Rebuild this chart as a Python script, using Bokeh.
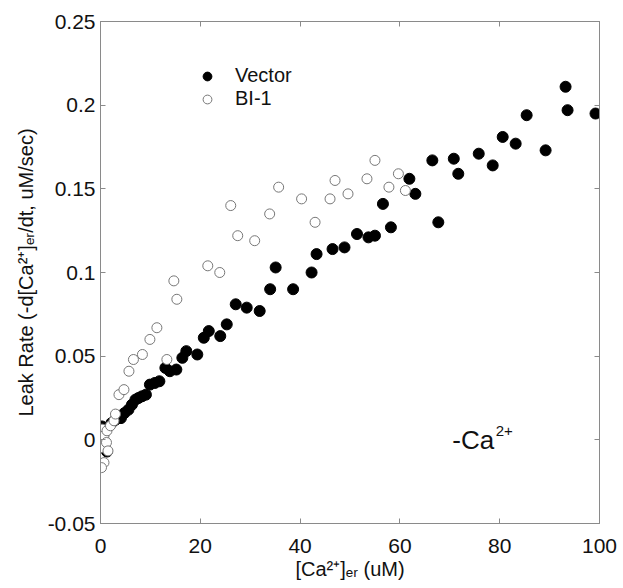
import numpy as np
from bokeh.plotting import figure
from bokeh.models import (ColumnDataSource, FixedTicker, LinearAxis, Legend, LegendItem,
                          Label, CustomJSTickFormatter)
from bokeh.embed import file_html
from bokeh.resources import INLINE

# ---------------- data ----------------
vector_x = [0.3, 1.0, 0.5, 1.3, 2.2, 3.0, 4.1, 4.8, 5.6, 6.3, 7.0, 7.6, 8.3, 9.1,
            9.9, 10.9, 11.8, 13.0, 13.9, 15.2, 16.4, 17.2, 19.4, 20.7, 21.7, 24.0,
            25.3, 27.1, 29.3, 31.9, 34.0, 35.1, 38.6, 42.3, 43.3, 46.5, 48.9, 51.4,
            53.7, 55.0, 56.6, 58.2, 61.9, 63.1, 66.5, 67.7, 70.8, 71.7, 75.8, 78.6,
            80.6, 83.2, 85.4, 89.2, 93.2, 93.6, 99.2]
vector_y = [0.008, 0.006, 0.001, -0.007, 0.010, 0.012, 0.013, 0.016, 0.018, 0.021,
            0.024, 0.025, 0.026, 0.027, 0.033, 0.034, 0.035, 0.043, 0.041, 0.042,
            0.049, 0.053, 0.051, 0.061, 0.065, 0.062, 0.069, 0.081, 0.079, 0.077,
            0.090, 0.103, 0.090, 0.100, 0.111, 0.114, 0.115, 0.123, 0.121, 0.122,
            0.141, 0.127, 0.156, 0.147, 0.167, 0.130, 0.168, 0.159, 0.171, 0.164,
            0.181, 0.177, 0.194, 0.173, 0.211, 0.197, 0.195]

bi1_x = [0.1, 0.3, 0.7, 0.2, 1.2, 1.5, 0.7, 0.2, 1.3, 2.0, 2.7, 3.0, 3.7, 4.7,
         5.7, 6.6, 8.4, 9.9, 11.3, 13.3, 14.7, 15.3, 21.5, 23.9, 26.1, 27.5, 30.9,
         33.9, 35.7, 40.3, 43.0, 46.0, 47.0, 49.6, 53.4, 55.0, 57.8, 59.7, 61.1]
bi1_y = [0.0004, 0.0064, 0.0024, -0.0046, -0.0016, -0.0066, -0.0136, -0.0166,
         0.0054, 0.0084, 0.0114, 0.0154, 0.027, 0.030, 0.041, 0.048, 0.051, 0.060,
         0.067, 0.048, 0.095, 0.084, 0.104, 0.100, 0.140, 0.122, 0.119, 0.135,
         0.151, 0.144, 0.130, 0.144, 0.155, 0.147, 0.156, 0.167, 0.151, 0.159, 0.149]

x_ticks = [0, 20, 40, 60, 80, 100]
x_tick_labels = ["0", "20", "40", "60", "80", "100"]
y_ticks = [-0.05, 0, 0.05, 0.1, 0.15, 0.2, 0.25]
y_tick_labels = ["-0.05", "0", "0.05", "0.1", "0.15", "0.2", "0.25"]

series_names = ["Vector", "BI-1"]
x_label = "[Ca\u00b2\u207a]\u2091\u1d63 (uM)"
y_label = "Leak Rate (-d[Ca\u00b2\u207a]\u2091\u1d63/dt, uM/sec)"

# ---------------- figure ----------------
FONT = "Liberation Sans"
AXIS_GRAY = "#8a8a8a"
TEXT = "#111111"

p = figure(width=623, height=588, x_range=(0, 100), y_range=(-0.05, 0.25),
           output_backend="svg", toolbar_location=None,
           min_border_left=100, min_border_right=24, min_border_top=21,
           min_border_bottom=65)
p.grid.visible = False
p.outline_line_color = AXIS_GRAY
p.background_fill_color = "white"
p.border_fill_color = "white"

src_v = ColumnDataSource(dict(x=vector_x, y=vector_y))
src_b = ColumnDataSource(dict(x=bi1_x, y=bi1_y))

r_v = p.scatter("x", "y", source=src_v, size=11, marker="circle",
                fill_color="black", line_color="black")
r_b = p.scatter("x", "y", source=src_b, size=10, marker="circle",
                fill_color="white", line_color="#777777", line_width=1)

def style_axis(ax, ticks, labels=None, show_labels=True):
    ax.ticker = FixedTicker(ticks=ticks)
    if show_labels and labels is not None:
        ax.major_label_overrides = {t: l for t, l in zip(ticks, labels)}
    ax.axis_line_color = AXIS_GRAY
    ax.major_tick_line_color = AXIS_GRAY
    ax.major_tick_in = 5
    ax.major_tick_out = 0
    ax.minor_tick_line_color = None
    ax.major_label_text_font = FONT
    ax.major_label_text_font_size = "21px"
    ax.major_label_text_color = TEXT
    ax.axis_label_text_font = FONT
    ax.axis_label_text_font_size = "20px"
    ax.axis_label_text_font_style = "normal"
    ax.axis_label_text_color = TEXT

style_axis(p.xaxis[0], x_ticks, x_tick_labels)
style_axis(p.yaxis[0], y_ticks, y_tick_labels)
p.xaxis[0].axis_label = x_label
p.yaxis[0].axis_label = y_label
p.xaxis[0].major_label_standoff = 15
p.yaxis[0].major_label_standoff = 5
p.xaxis[0].axis_label_standoff = 2
p.yaxis[0].axis_label_standoff = 8

# box axes with inward ticks on top and right
for loc, ticks in (("right", y_ticks), ("above", x_ticks)):
    ax = LinearAxis(formatter=CustomJSTickFormatter(code="return ''"))
    style_axis(ax, ticks, show_labels=False)
    ax.major_label_standoff = 0
    ax.major_label_text_font_size = "1px"
    p.add_layout(ax, loc)

legend = Legend(items=[LegendItem(label=series_names[0], renderers=[r_v]),
                       LegendItem(label=series_names[1], renderers=[r_b])],
                location=(96, 413), orientation="vertical")
legend.border_line_color = None
legend.background_fill_alpha = 0
legend.padding = 0
legend.margin = 0
legend.spacing = 0
legend.glyph_width = 22
legend.glyph_height = 22
legend.label_height = 22
legend.label_standoff = 17
legend.label_text_font = FONT
legend.label_text_font_size = "20px"
legend.label_text_color = TEXT
p.add_layout(legend)

p.add_layout(Label(x=70.5, y=0.0, text="-Ca", text_font=FONT, text_font_size="26px",
                   text_baseline="middle", text_color=TEXT))
p.add_layout(Label(x=79.2, y=0.005, text="2+", text_font=FONT, text_font_size="15px",
                   text_baseline="middle", text_color=TEXT))

open("out.html", "w").write(file_html(p, INLINE))
